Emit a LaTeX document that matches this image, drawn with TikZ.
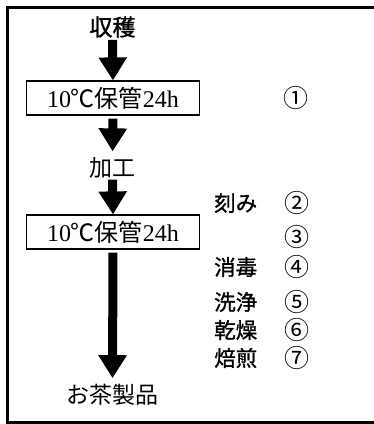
\documentclass[tikz,border=0pt]{standalone}
\usepackage{fontspec}
\setmainfont{Liberation Serif}
\newfontfamily\jp{Noto Sans CJK JP}
\newfontfamily\jpm{Noto Sans CJK JP}[FakeBold=1.2]
\usetikzlibrary{arrows.meta}
\tikzset{
  lbl/.style={inner sep=0pt, font=\jpm\fontsize{21.5}{21.5}\selectfont},
  lblh/.style={inner sep=0pt, font=\jpm\fontsize{23}{23}\selectfont},
  lbll/.style={inner sep=0pt, font=\jp\fontsize{23}{23}\selectfont},
  stepbox/.style={draw, line width=1.2pt, minimum width=173pt, minimum height=34pt, inner sep=0pt, font=\fontsize{24}{24}\selectfont},
  num/.style={inner sep=0pt, font=\jp\fontsize{25}{25}\selectfont},
  blk/.style={line width=9pt, -{Triangle[width=27pt,length=23pt]}},
}
\begin{document}
\begin{tikzpicture}[x=1pt,y=-1pt]
\useasboundingbox (0,0) rectangle (374,424);
\draw[line width=3pt] (374,7.5) -- (7.5,7.5) -- (7.5,422.5) -- (374,422.5);
\node[lblh] (h) at (112.5,27) {収穫};
\node[stepbox] (b1) at (113,98) {10{\jp ℃保管}24h};
\node[num] (n1) at (296,98) {①};
\node[lbll] (k) at (112.5,168) {加工};
\node[stepbox] (b2) at (113,232) {10{\jp ℃保管}24h};
\node[lbl, anchor=west] (s2) at (214,203) {刻み};
\node[num] (n2) at (297,203) {②};
\node[num] (n3) at (297,237) {③};
\node[lbl, anchor=west] (s4) at (214,267) {消毒};
\node[num] (n4) at (297,267) {④};
\node[lbl, anchor=west] (s5) at (214,302) {洗浄};
\node[num] (n5) at (297,302) {⑤};
\node[lbl, anchor=west] (s6) at (214,330) {乾燥};
\node[num] (n6) at (297,330) {⑥};
\node[lbl, anchor=west] (s7) at (214,358) {焙煎};
\node[num] (n7) at (297,358) {⑦};
\node[lbll] (p) at (112.5,395) {お茶製品};
\draw[blk, shorten <=2pt] (h.south) -- (b1.north);
\draw[blk, shorten <=3pt, shorten >=6pt] (b1.south) -- (k.north);
\draw[blk, shorten <=1pt] (k.south) -- (b2.north);
\draw[blk, shorten <=3pt, shorten >=6pt] (b2.south) -- (p.north);
\end{tikzpicture}
\end{document}
